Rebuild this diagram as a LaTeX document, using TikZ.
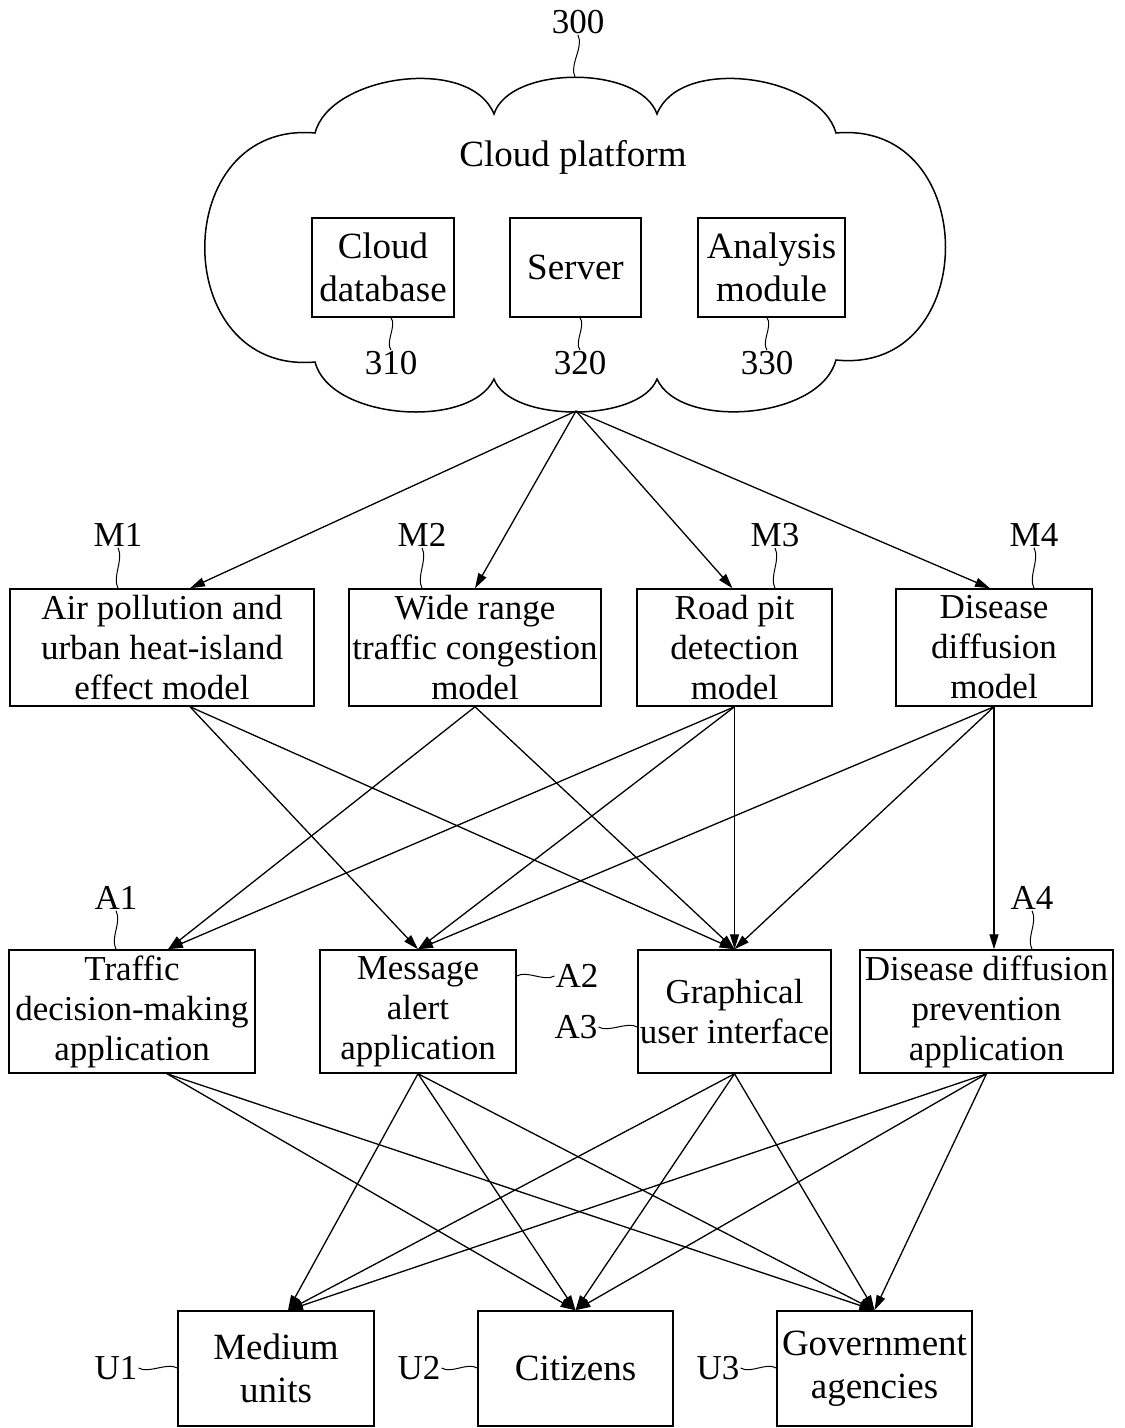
\documentclass[tikz,border=0pt]{standalone}
\usepackage{fontspec}
\setmainfont{Liberation Serif}
\usetikzlibrary{arrows.meta,positioning,calc}
\newcommand{\boxfont}{\fontsize{35}{40}\selectfont}
\newcommand{\bigfont}{\fontsize{37}{43}\selectfont}

\begin{document}
\begin{tikzpicture}[
    x=1pt, y=-1pt,
    >={Triangle[length=15pt,width=9pt]},
    block/.style={rectangle, draw, line width=1.5pt, inner sep=0pt, align=center, font=\boxfont},
    inblock/.style={block, font=\bigfont, minimum height=99pt},
    tag/.style={inner sep=1pt, font=\boxfont},
    arrow/.style={->, line width=1.3pt},
    lead/.style={line width=1pt},
]
\useasboundingbox (0,0) rectangle (1125,1428);

% cloud platform outline
\draw[line width=1.5pt] (315,133)
    .. controls (330,75) and (470,55) .. (494,114)
    .. controls (510,65) and (640,65) .. (657,114)
    .. controls (680,55) and (820,75) .. (836,133)
    .. controls (982,120) and (982,375) .. (836,360)
    .. controls (820,420) and (680,430) .. (657,379)
    .. controls (640,423) and (510,423) .. (494,379)
    .. controls (470,430) and (330,420) .. (315,362)
    .. controls (168,375) and (168,120) .. (315,133) -- cycle;
\coordinate (cloud-n) at (575,77);
\coordinate (cloud-s) at (576,411);

\node[font=\bigfont] (cloudtxt) at (573,157) {Cloud platform};
\node[inblock, minimum width=142pt] (db) at (383,267.5) {Cloud\\database};
\node[inblock, minimum width=131pt] (srv) at (575.5,267.5) {Server};
\node[inblock, minimum width=147pt] (ana) at (771.5,267.5) {Analysis\\module};

\node[tag] (l300) at (578,22) {300};
\node[tag] (l310) at (391,363) {310};
\node[tag] (l320) at (580,363) {320};
\node[tag] (l330) at (767,363) {330};

% models
\node[block, minimum width=304pt, minimum height=117pt] (m1) at (162,647.5) {Air pollution and\\urban heat-island\\effect model};
\node[block, minimum width=252pt, minimum height=117pt] (m2) at (475,647.5) {Wide range\\traffic congestion\\model};
\node[block, minimum width=195pt, minimum height=117pt] (m3) at (734.5,647.5) {Road pit\\detection\\model};
\node[block, minimum width=196pt, minimum height=117pt] (m4) at (994,647.5) {Disease\\diffusion\\model};

\node[tag] (lm1) at (118,535) {M1};
\node[tag] (lm2) at (422,535) {M2};
\node[tag] (lm3) at (775,535) {M3};
\node[tag] (lm4) at (1034,535) {M4};

% applications
\node[block, minimum width=246pt, minimum height=123pt] (a1) at (132,1011.5) {Traffic\\decision-making\\application};
\node[block, minimum width=196pt, minimum height=123pt] (a2) at (418,1011.5) {Message\\alert\\application};
\node[block, minimum width=193pt, minimum height=123pt] (a3) at (734.5,1011.5) {Graphical\\user interface};
\node[block, minimum width=253pt, minimum height=123pt] (a4) at (986.5,1011.5) {Disease diffusion\\prevention\\application};

\node[tag] (la1) at (116,898) {A1};
\node[tag] (la2) at (577,976) {A2};
\node[tag] (la3) at (576,1027) {A3};
\node[tag] (la4) at (1032,898) {A4};

% users
\node[block, font=\bigfont, minimum width=196pt, minimum height=115pt] (u1) at (276,1368.5) {Medium\\units};
\node[block, font=\bigfont, minimum width=195pt, minimum height=115pt] (u2) at (575.5,1368.5) {Citizens};
\node[block, font=\bigfont, minimum width=195pt, minimum height=115pt] (u3) at (874.5,1368.5) {Government\\agencies};

\node[tag] (lu1) at (116,1368) {U1};
\node[tag] (lu2) at (419,1368) {U2};
\node[tag] (lu3) at (718,1368) {U3};

% reference leaders
\draw[lead] (l300.south) .. controls +(6,12) and +(-6,-12) .. (cloud-n);
\draw[lead] (l310.north |- db.south) .. controls +(6,8) and +(-6,-8) .. (l310.north);
\draw[lead] (l320.north |- srv.south) .. controls +(6,8) and +(-6,-8) .. (l320.north);
\draw[lead] (l330.north |- ana.south) .. controls +(6,8) and +(-6,-8) .. (l330.north);
\draw[lead] (lm1.south) .. controls +(6,12) and +(-6,-12) .. (lm1.south |- m1.north);
\draw[lead] (lm2.south) .. controls +(6,12) and +(-6,-12) .. (lm2.south |- m2.north);
\draw[lead] (lm3.south) .. controls +(6,12) and +(-6,-12) .. (lm3.south |- m3.north);
\draw[lead] (lm4.south) .. controls +(6,12) and +(-6,-12) .. (lm4.south |- m4.north);
\draw[lead] (la1.south) .. controls +(6,12) and +(-6,-12) .. (la1.south |- a1.north);
\draw[lead] (la4.south) .. controls +(6,12) and +(-6,-12) .. (la4.south |- a4.north);
\draw[lead] (a2.east |- la2.west) .. controls +(10,-6) and +(-10,6) .. (la2.west);
\draw[lead] (la3.east) .. controls +(10,6) and +(-10,-6) .. (la3.east -| a3.west);
\draw[lead] (lu1.east) .. controls +(10,6) and +(-10,-6) .. (lu1.east -| u1.west);
\draw[lead] (lu2.east) .. controls +(10,6) and +(-10,-6) .. (lu2.east -| u2.west);
\draw[lead] (lu3.east) .. controls +(10,6) and +(-10,-6) .. (lu3.east -| u3.west);

% cloud to models
\draw[arrow] (cloud-s) -- ([xshift=28pt]m1.north);
\draw[arrow] (cloud-s) -- (m2.north);
\draw[arrow] (cloud-s) -- ([xshift=-2pt]m3.north);
\draw[arrow] (cloud-s) -- ([xshift=-4pt]m4.north);

% models to applications
\draw[arrow] ([xshift=28pt]m1.south) -- (a2.north);
\draw[arrow] ([xshift=28pt]m1.south) -- (a3.north);
\draw[arrow] (m2.south) -- ([xshift=36pt]a1.north);
\draw[arrow] (m2.south) -- (a3.north);
\draw[arrow] (m3.south) -- ([xshift=36pt]a1.north);
\draw[arrow] (m3.south) -- (a2.north);
\draw[arrow] (m3.south) -- (m3.south |- a3.north);
\draw[arrow] (m4.south) -- (a2.north);
\draw[arrow] (m4.south) -- (a3.north);
\draw[arrow] (m4.south) -- (m4.south |- a4.north);

% applications to users
\draw[arrow] ([xshift=35pt]a1.south) -- (u2.north);
\draw[arrow] ([xshift=35pt]a1.south) -- (u3.north);
\draw[arrow] (a2.south) -- ([xshift=12pt]u1.north);
\draw[arrow] (a2.south) -- (u2.north);
\draw[arrow] (a2.south) -- (u3.north);
\draw[arrow] (a3.south) -- ([xshift=12pt]u1.north);
\draw[arrow] (a3.south) -- (u2.north);
\draw[arrow] (a3.south) -- (u3.north);
\draw[arrow] (a4.south) -- ([xshift=12pt]u1.north);
\draw[arrow] (a4.south) -- (u2.north);
\draw[arrow] (a4.south) -- (u3.north);
\end{tikzpicture}
\end{document}
